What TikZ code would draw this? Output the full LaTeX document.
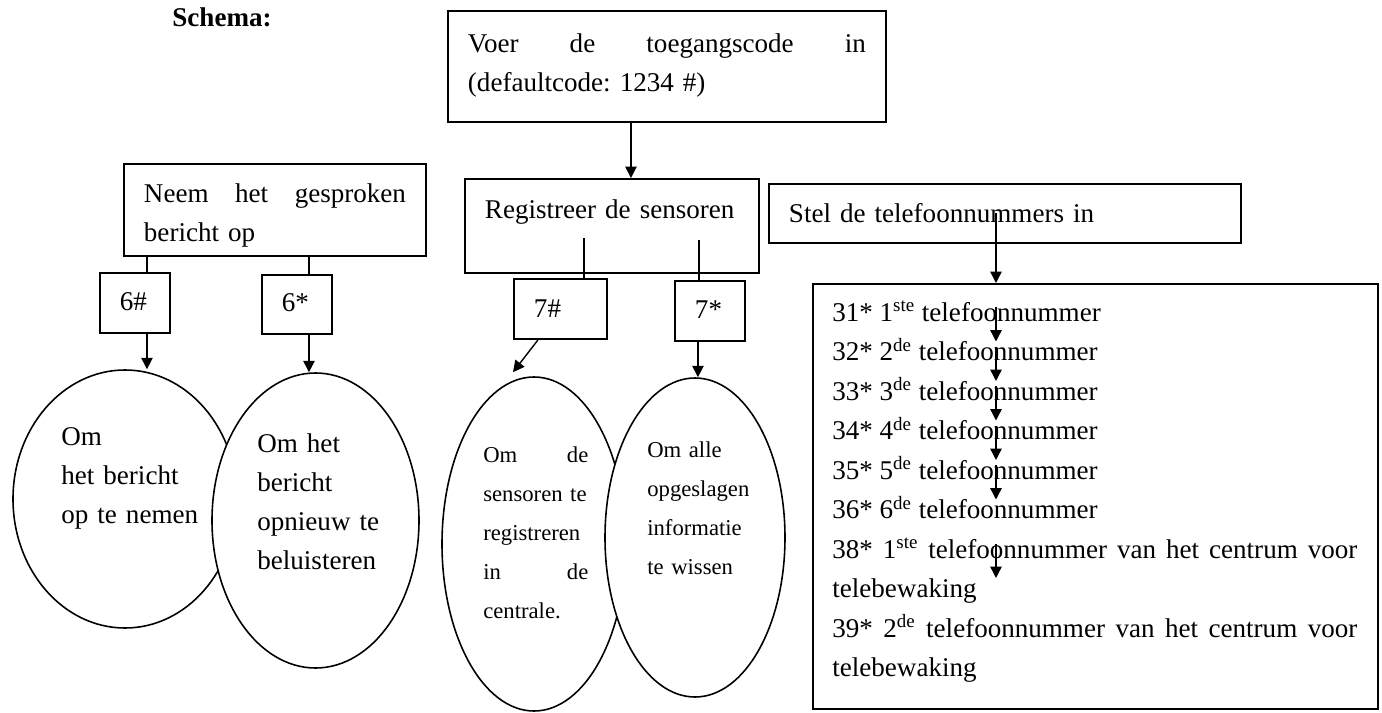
\documentclass[tikz,border=0pt]{standalone}
\usepackage{fontspec}
\setmainfont{Liberation Serif}
\usetikzlibrary{shapes.geometric, arrows.meta}
\frenchspacing

\begin{document}
\begin{tikzpicture}[
  txt/.style={font=\fontsize{15.4pt}{22.2pt}\selectfont},
  smalltxt/.style={font=\fontsize{12.9pt}{22.2pt}\selectfont},
  box/.style={draw, line width=1.1pt, anchor=north west, align=left, inner xsep=0.4cm, inner ysep=0pt, txt},
  bubble/.style={draw, ellipse, line width=0.9pt, inner sep=0pt, fill=white},
  inside/.style={anchor=base west, inner sep=0pt, align=left},
  entry/.style={txt, anchor=base west, inner sep=0pt, align=left},
  link/.style={line width=0.8pt},
  arr/.style={line width=0.8pt, -{Triangle[length=6.5pt,width=6.5pt]}}
]
  \useasboundingbox (0,0) rectangle (27.64,-14.26);

  % Title
  \node[font=\fontsize{15.4pt}{18pt}\selectfont\bfseries, anchor=base] (title) at (4.44,-0.54) {Schema:};

  % Access code
  \node[box, text width=7.96cm, text height=0.84cm, text depth=1.38cm] (voer) at (8.94,-0.2) {Voer\hfill de\hfill toegangscode\hfill in\\(defaultcode: 1234 \#)};

  % Three menus
  \node[box, text width=5.24cm, text height=0.78cm, text depth=1.06cm] (neem) at (2.46,-3.26) {Neem\hfill het\hfill gesproken\\bericht op};
  \node[box, text width=5.08cm, text height=0.8cm, text depth=1.08cm] (reg) at (9.28,-3.56) {Registreer de sensoren};
  \node[box, text width=8.64cm, text height=0.78cm, text depth=0.4cm] (stel) at (15.36,-3.66) {Stel de telefoonnummers in};

  \draw[arr] ([xshift=0.38cm]reg.north |- voer.south) -- ([xshift=0.38cm]reg.north);

  % Key codes
  \node[box, text width=0.6cm, text height=0.76cm, text depth=0.44cm] (hash6) at (1.98,-5.44) {6\#};
  \node[box, text width=0.6cm, text height=0.74cm, text depth=0.44cm] (star6) at (5.22,-5.48) {6*};
  \node[box, text width=1.06cm, text height=0.78cm, text depth=0.42cm] (hash7) at (10.26,-5.56) {7\#};
  \node[box, text width=0.6cm, text height=0.76cm, text depth=0.44cm] (star7) at (13.48,-5.6) {7*};

  \draw[link] ([xshift=0.24cm]hash6.north |- neem.south) -- ([xshift=0.24cm]hash6.north);
  \draw[link] ([xshift=0.24cm]star6.north |- neem.south) -- ([xshift=0.24cm]star6.north);
  \draw[link] ([xshift=0.47cm,yshift=0.8cm]hash7.north) -- ([xshift=0.47cm]hash7.north);
  \draw[link] ([xshift=-0.22cm,yshift=0.8cm]star7.north) -- ([xshift=-0.22cm]star7.north);

  % Actions
  \node[bubble, minimum width=4.48cm, minimum height=5.16cm] (ell1) at (2.5,-9.98) {};
  \node[bubble, minimum width=4.14cm, minimum height=5.9cm] (ell2) at (6.31,-10.41) {};
  \node[bubble, minimum width=3.68cm, minimum height=6.68cm] (ell3) at (10.68,-10.88) {};
  \node[bubble, minimum width=3.6cm, minimum height=6.38cm] (ell4) at (13.9,-10.75) {};

  \node[inside, txt, text width=3cm] (om1) at (1.22,-8.9) {Om\\het bericht\\op te nemen};
  \node[inside, txt, text width=3cm] (om2) at (5.14,-9.04) {Om het\\bericht\\opnieuw te\\beluisteren};
  \node[inside, smalltxt, text width=2.1cm] (om3) at (9.66,-9.24) {Om\hfill de\\sensoren~te\\registreren\\in\hfill de\\centrale.};
  \node[inside, smalltxt, text width=2.6cm] (om4) at (12.94,-9.14) {Om alle\\opgeslagen\\informatie\\te wissen};

  \draw[arr] ([xshift=0.24cm]hash6.south) -- ([xshift=0.24cm]hash6.south |- ell1.north);
  \draw[arr] ([xshift=0.24cm]star6.south) -- ([xshift=0.24cm]star6.south |- ell2.north);
  \draw[arr] ([xshift=-0.45cm]hash7.south) -- ([xshift=-0.42cm,yshift=0.08cm]ell3.north);
  \draw[arr] ([xshift=-0.24cm]star7.south) -- ([xshift=-0.24cm]star7.south |- ell4.north);

  % Telephone numbers
  \node[draw, line width=1.1pt, anchor=north west, minimum width=11.3cm, minimum height=8.5cm, inner sep=0pt] (tel) at (16.24,-5.66) {};
  \node[entry] (n31) at (16.64,-6.42) {31* 1\textsuperscript{ste} telefoonnummer};
  \node[entry] (n32) at (16.64,-7.21) {32* 2\textsuperscript{de} telefoonnummer};
  \node[entry] (n33) at (16.64,-8.0) {33* 3\textsuperscript{de} telefoonnummer};
  \node[entry] (n34) at (16.64,-8.79) {34* 4\textsuperscript{de} telefoonnummer};
  \node[entry] (n35) at (16.64,-9.58) {35* 5\textsuperscript{de} telefoonnummer};
  \node[entry] (n36) at (16.64,-10.37) {36* 6\textsuperscript{de} telefoonnummer};
  \node[entry, text width=10.5cm] (n38) at (16.64,-11.16) {38*\hfill 1\textsuperscript{ste}\hfill telefoonnummer\hfill van\hfill het\hfill centrum\hfill voor\\telebewaking};
  \node[entry, text width=10.5cm] (n39) at (16.64,-12.74) {39*\hfill 2\textsuperscript{de}\hfill telefoonnummer\hfill van\hfill het\hfill centrum\hfill voor\\telebewaking};

  \coordinate (tx) at (19.92,0);
  \draw[arr] ([yshift=0.2cm]tx |- stel.base) -- (tx |- tel.north);
  \draw[arr] ([yshift=0.28cm]tx |- n31.base) -- ([yshift=0.38cm]tx |- n32.base);
  \draw[arr] ([yshift=0.28cm]tx |- n32.base) -- ([yshift=0.38cm]tx |- n33.base);
  \draw[arr] ([yshift=0.28cm]tx |- n33.base) -- ([yshift=0.38cm]tx |- n34.base);
  \draw[arr] ([yshift=0.28cm]tx |- n34.base) -- ([yshift=0.38cm]tx |- n35.base);
  \draw[arr] ([yshift=0.28cm]tx |- n35.base) -- ([yshift=0.38cm]tx |- n36.base);
  \draw[arr] ([yshift=0.28cm]tx |- n38.base) -- ([yshift=-0.4cm]tx |- n38.base);
\end{tikzpicture}
\end{document}
